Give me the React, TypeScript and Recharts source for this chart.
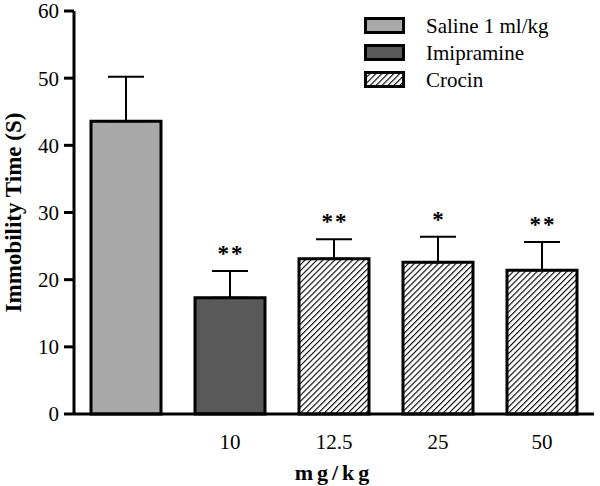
import React from "react";
import {
  BarChart,
  Bar,
  Cell,
  XAxis,
  YAxis,
  ErrorBar,
  LabelList,
  Label,
} from "recharts";

const doses = ["", "10", "12.5", "25", "50"];
const groups = ["saline", "imipramine", "crocin", "crocin", "crocin"];
const means = [43.6, 17.3, 23.1, 22.6, 21.4];
const upperWhisker = [50.2, 21.3, 26.0, 26.4, 25.6];
const stars = ["", "**", "**", "*", "**"];
const yTicks = [0, 10, 20, 30, 40, 50, 60];

const legendItems = [
  { key: "saline", label: "Saline 1 ml/kg" },
  { key: "imipramine", label: "Imipramine" },
  { key: "crocin", label: "Crocin" },
];

const fills: Record<string, string> = {
  saline: "#a9a9a9",
  imipramine: "#595959",
  crocin: "url(#hatch)",
};

const font = "Liberation Serif, Times New Roman, serif";

const data = doses.map((d, i) => ({
  dose: d,
  group: groups[i],
  value: means[i],
  err: [0, upperWhisker[i] - means[i]],
  star: stars[i],
}));

const StarLabel = (props: any) => {
  const { x, y, width, height, value, index } = props;
  if (!value) return null;
  const perUnit = height / means[index];
  const top = y - (upperWhisker[index] - means[index]) * perUnit;
  return (
    <text
      x={x + width / 2 + 1}
      y={top - 10}
      textAnchor="middle"
      fontFamily={font}
      fontSize={23}
      fontWeight="bold"
      letterSpacing={2}
      fill="#000"
    >
      {value}
    </text>
  );
};

const HatchDef = () => (
  <pattern
    id="hatch"
    patternUnits="userSpaceOnUse"
    width={4.2}
    height={4.2}
    patternTransform="rotate(45)"
  >
    <rect width={4.2} height={4.2} fill="#fff" />
    <line x1={0} y1={0} x2={0} y2={4.2} stroke="#000" strokeWidth={2.2} />
  </pattern>
);

const LegendBox = () => (
  <svg
    width={240}
    height={90}
    style={{ position: "absolute", left: 364, top: 13 }}
  >
    <defs>
      <HatchDef />
    </defs>
    {legendItems.map((it, i) => (
      <g key={it.key} transform={`translate(0, ${i * 27})`}>
        <rect
          x={1.5}
          y={5.5}
          width={38}
          height={14}
          fill={fills[it.key]}
          stroke="#000"
          strokeWidth={3}
        />
        <text x={62} y={20} fontFamily={font} fontSize={21} fill="#000">
          {it.label}
        </text>
      </g>
    ))}
  </svg>
);

export default function App() {
  return (
    <div
      style={{
        position: "absolute",
        left: 0,
        top: 0,
        width: 600,
        height: 486,
        background: "#fff",
      }}
    >
      <BarChart
        width={600}
        height={486}
        data={data}
        margin={{ top: 11, right: 6, left: 0, bottom: 0 }}
      >
        <defs>
          <HatchDef />
        </defs>
        <XAxis
          dataKey="dose"
          height={72}
          tickLine={false}
          axisLine={{ stroke: "#000", strokeWidth: 3 }}
          tick={{ fill: "#000", fontFamily: font, fontSize: 21 }}
          tickMargin={14}
        >
          <Label
            value="mg/kg"
            position="insideBottom"
            offset={6}
            style={{
              fontFamily: font,
              fontSize: 22,
              fontWeight: "bold",
              letterSpacing: 4,
              fill: "#000",
            }}
          />
        </XAxis>
        <YAxis
          width={74}
          domain={[0, 60]}
          ticks={yTicks}
          interval={0}
          tickSize={10}
          tickMargin={5}
          tickLine={{ stroke: "#000", strokeWidth: 3 }}
          axisLine={{ stroke: "#000", strokeWidth: 3 }}
          tick={{ fill: "#000", fontFamily: font, fontSize: 21 }}
        >
          <Label
            value="Immobility Time (S)"
            angle={-90}
            position="insideLeft"
            offset={13}
            style={{
              textAnchor: "middle",
              fontFamily: font,
              fontSize: 23,
              fontWeight: "bold",
              fill: "#000",
            }}
          />
        </YAxis>
        <Bar
          dataKey="value"
          barSize={70}
          stroke="#000"
          strokeWidth={3}
          isAnimationActive={false}
        >
          {data.map((d, i) => (
            <Cell key={i} fill={fills[d.group]} />
          ))}
          <ErrorBar
            dataKey="err"
            width={18}
            stroke="#000"
            strokeWidth={2}
            direction="y"
          />
          <LabelList dataKey="star" content={StarLabel} />
        </Bar>
      </BarChart>
      <LegendBox />
    </div>
  );
}
